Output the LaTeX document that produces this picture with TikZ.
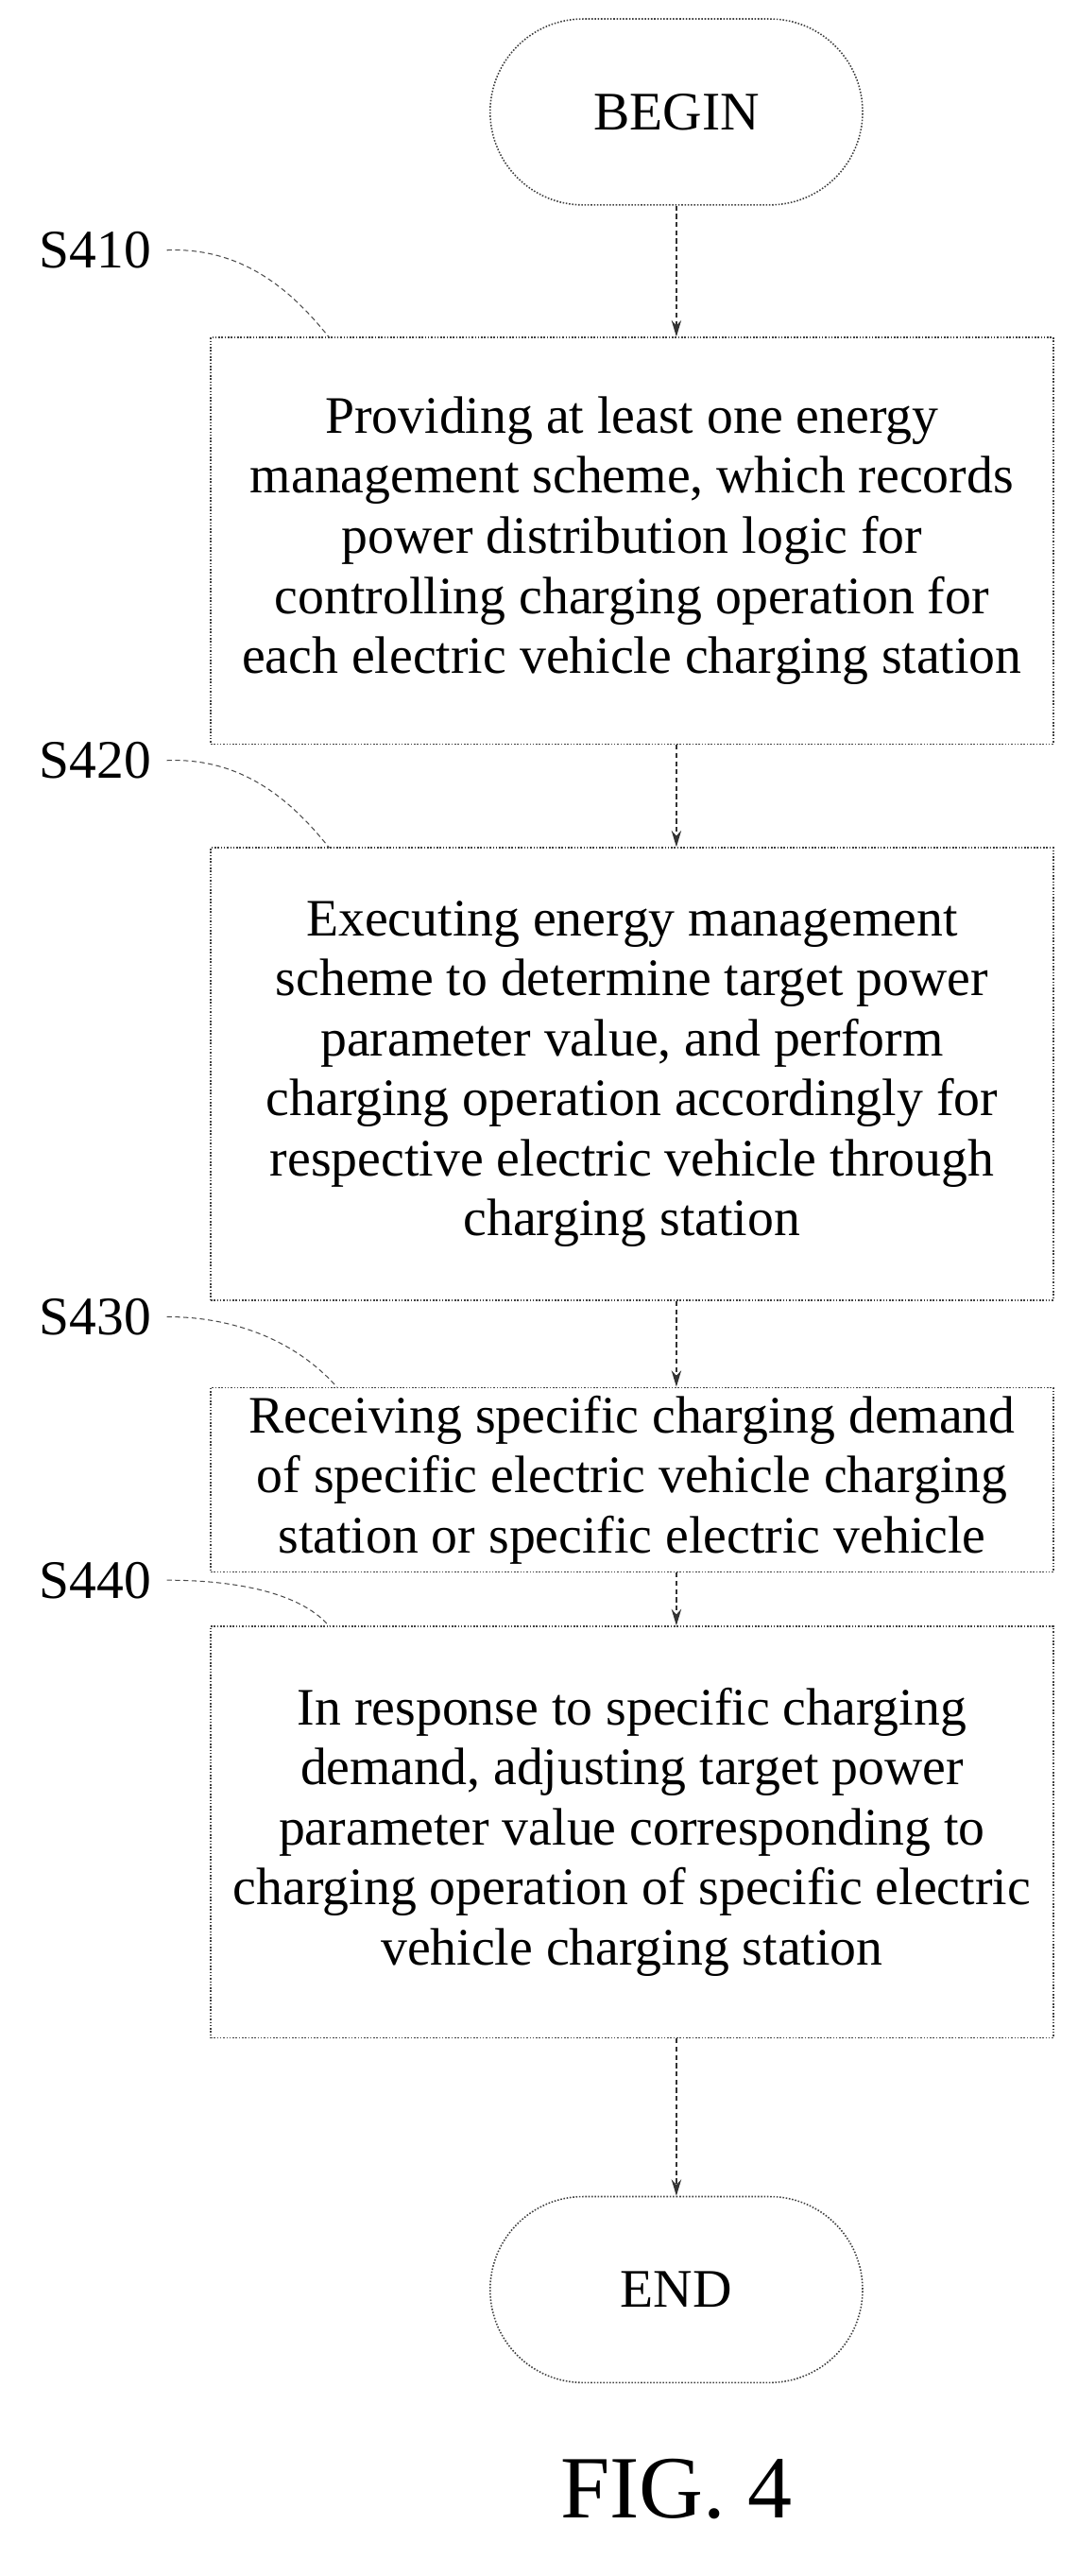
\documentclass[tikz,border=0pt]{standalone}
\usepackage{fontspec}
\setmainfont{Liberation Serif}
\usetikzlibrary{shapes.misc,arrows.meta}
\begin{document}
\begin{tikzpicture}[x=1pt,y=-1pt,
  stepbox/.style={draw=black!75,densely dotted,line width=0.9pt,align=center,font=\fontsize{32}{36.5}\selectfont,inner sep=0pt},
  term/.style={draw=black!75,densely dotted,line width=0.9pt,rounded rectangle,minimum width=233pt,minimum height=113pt,font=\fontsize{33}{36}\selectfont},
  conn/.style={draw=black!80,densely dashed,line width=0.8pt,-{Stealth[length=10pt,width=6pt]}},
  lead/.style={draw=black!70,densely dashed,line width=0.6pt},
  lbl/.style={font=\fontsize{33}{36}\selectfont,anchor=center}]
\useasboundingbox (0,0) rectangle (655,1565);
\node[term] (begin) at (411,68) {BEGIN};
\node[stepbox,minimum width=512pt,minimum height=247pt] (b1) at (384,328.5) {Providing at least one energy\\management scheme, which records\\power distribution logic for\\controlling charging operation for\\each electric vehicle charging station};
\node[stepbox,minimum width=512pt,minimum height=275pt] (b2) at (384,652.5) {Executing energy management\\scheme to determine target power\\parameter value, and perform\\charging operation accordingly for\\respective electric vehicle through\\charging station};
\node[stepbox,minimum width=512pt,minimum height=112pt] (b3) at (384,899) {Receiving specific charging demand\\of specific electric vehicle charging\\station or specific electric vehicle};
\node[stepbox,minimum width=512pt,minimum height=250pt] (b4) at (384,1113) {In response to specific charging\\demand, adjusting target power\\parameter value corresponding to\\charging operation of specific electric\\vehicle charging station};
\node[term] (end) at (411,1391) {END};
\node[font=\fontsize{54}{56}\selectfont] (fig) at (411,1512) {FIG. 4};
\draw[conn] (begin.south) -- (begin.south |- b1.north);
\draw[conn] (b1.south -| begin.south) -- (b2.north -| begin.south);
\draw[conn] (b2.south -| begin.south) -- (b3.north -| begin.south);
\draw[conn] (b3.south -| begin.south) -- (b4.north -| begin.south);
\draw[conn] (b4.south -| begin.south) -- (end.north);
\node[lbl] (s1) at (58,152) {S410};
\node[lbl] (s2) at (58,462) {S420};
\node[lbl] (s3) at (58,800) {S430};
\node[lbl] (s4) at (58,960) {S440};
\coordinate (t1) at (200,205);
\coordinate (t2) at (200,515);
\coordinate (t3) at (205,843);
\coordinate (t4) at (200,988);
\draw[lead] ([xshift=6pt]s1.east) .. controls (150,150) and (180,180) .. (t1);
\draw[lead] ([xshift=6pt]s2.east) .. controls (150,460) and (180,490) .. (t2);
\draw[lead] ([xshift=6pt]s3.east) .. controls (150,800) and (185,820) .. (t3);
\draw[lead] ([xshift=6pt]s4.east) .. controls (150,960) and (185,970) .. (t4);
\end{tikzpicture}
\end{document}
